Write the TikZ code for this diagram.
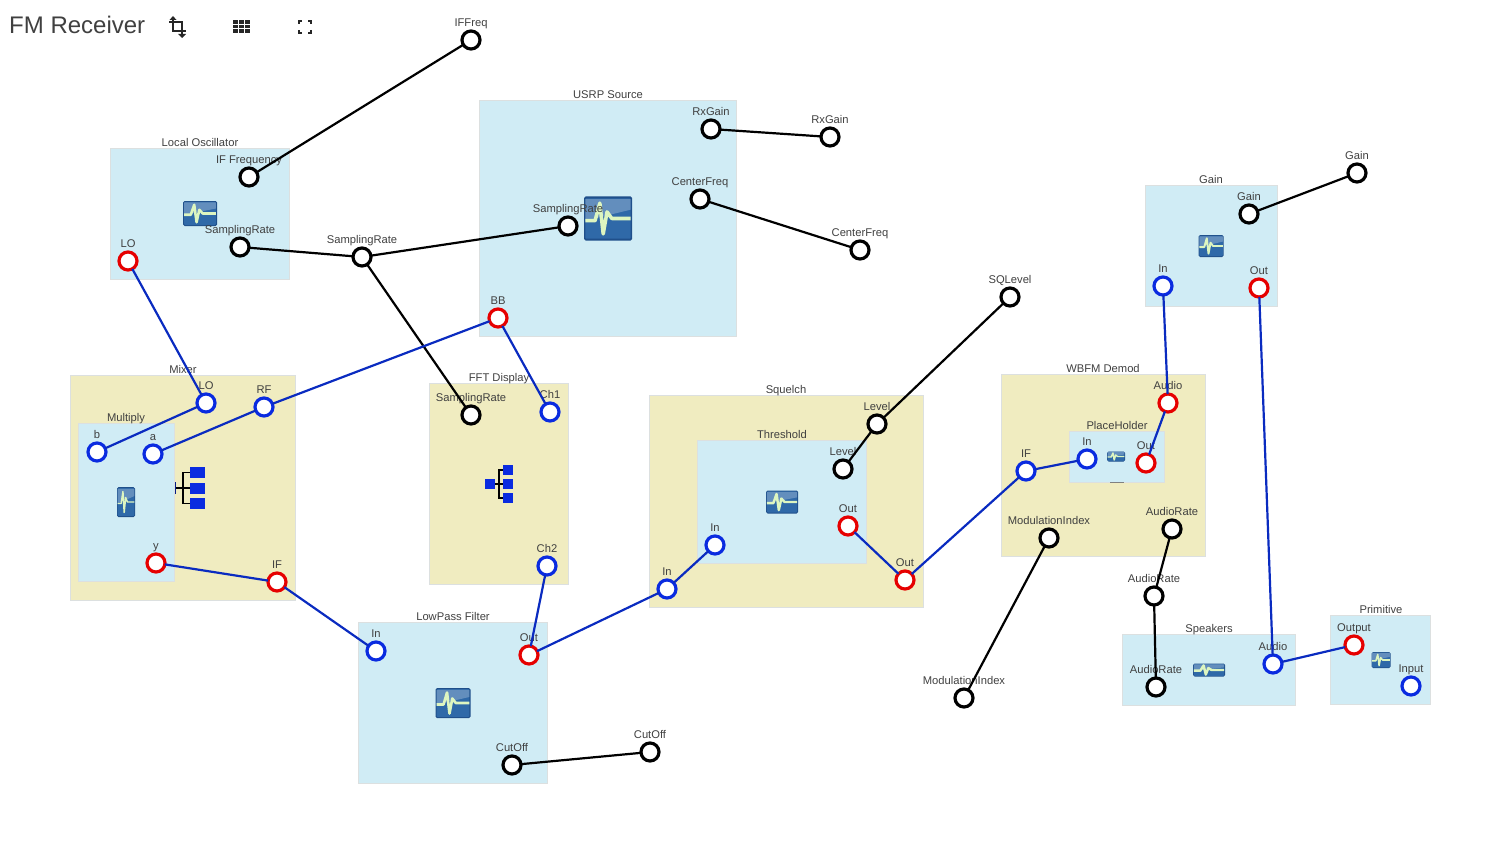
\documentclass[tikz,border=0pt]{standalone}
\usepackage{fontspec}
\setmainfont{Liberation Sans}
\usepackage{tikz}
\usetikzlibrary{arrows.meta,positioning,calc}

\definecolor{leafblue}{HTML}{D0ECF5}
\definecolor{groupkhaki}{HTML}{F0ECC0}
\definecolor{boxedge}{HTML}{DCE0E0}
\definecolor{portblue}{HTML}{0A2BE0}
\definecolor{portred}{HTML}{E60000}
\definecolor{wireblue}{HTML}{0A2BC0}
\definecolor{icondark}{HTML}{1F4F8A}
\definecolor{iconblue}{HTML}{2F69A8}
\definecolor{pulsegreen}{HTML}{DDF5C0}
\definecolor{treeblue}{HTML}{0A2BE0}

\tikzset{
  leafbox/.style={fill=leafblue, draw=boxedge, line width=1pt},
  groupbox/.style={fill=groupkhaki, draw=boxedge, line width=1pt},
  boxtitle/.style={font=\fontsize{11.2}{12}\selectfont, text=black!75, inner sep=0pt, text height=8pt, text depth=2pt, yshift=-1.5pt},
  portlabel/.style={font=\fontsize{11.2}{12}\selectfont, text=black!75, inner sep=0pt, text height=8pt, text depth=2pt, yshift=2pt},
  portbase/.style={circle, fill=white, line width=3.2pt, minimum size=18pt, inner sep=0pt, outer sep=0pt},
  paramport/.style={portbase, draw=black},
  inport/.style={portbase, draw=portblue},
  outport/.style={portbase, draw=portred},
  datawire/.style={wireblue, line width=2.2pt},
  paramwire/.style={black, line width=2.2pt},
}

% icon of a leaf block
\newcommand{\pulseicon}[4]{
  \begin{scope}[shift={(#1,#2)}, x=#3pt, y=-#4pt]
    \fill[icondark, rounded corners=1.5pt] (-0.5,-0.5) rectangle (0.5,0.5);
    \fill[iconblue, rounded corners=1pt] (-0.47,-0.46) rectangle (0.47,0.46);
    \fill[white, opacity=0.25] (-0.47,-0.44) -- (0.47,-0.44) -- (0.47,-0.2) -- (-0.47,0.05) -- cycle;
    \draw[pulsegreen, line width=0.07*#3pt+0.2pt, line join=round]
      (-0.47,0.05) -- (-0.27,0.05) -- (-0.17,-0.35) -- (-0.1,0.35) -- (-0.02,-0.15) -- (0.08,0) -- (0.47,0);
  \end{scope}
}

\begin{document}
\begin{tikzpicture}[x=1pt, y=-1pt]
  \useasboundingbox (0,0) rectangle (1492,856);

  % Page header
  \node[anchor=west, inner sep=0pt, text=black!75, font=\fontsize{24}{26}\selectfont] (pagetitle) at (9,25) {FM Receiver};
  \draw[black!85, line width=1.6pt] (173,18) -- (173,31) -- (186,31) (169,22) -- (182,22) -- (182,35);
  \fill[black!85] (178,34) -- (186,34) -- (182,38) -- cycle;
  \fill[black!85] (169.5,20) -- (176.5,20) -- (173,16) -- cycle;
  \foreach \gx in {233,239,245}
    \foreach \gy in {20,24.7,29.4}
      \fill[black!85] (\gx,\gy) rectangle ++(5,3.7);
  \draw[black!85, line width=1.7pt] (299,24) -- (299,21) -- (302,21) (308,21) -- (311,21) -- (311,24) (311,30) -- (311,33) -- (308,33) (302,33) -- (299,33) -- (299,30);

  % Blocks
  \draw[leafbox] (110.5,148.5) rectangle (289.5,279);
  \node[boxtitle] (localtitle) at (200,142) {Local Oscillator};
  \pulseicon{200}{213.5}{34}{25}

  \draw[leafbox] (479.5,100.5) rectangle (736.5,336);
  \node[boxtitle] (usrptitle) at (608,94) {USRP Source};
  \pulseicon{608}{218.5}{48}{44}

  \draw[groupbox] (70.5,375.5) rectangle (295.5,600);
  \node[boxtitle] (mixertitle) at (183,369) {Mixer};
  \draw[leafbox] (78.5,423.5) rectangle (174.5,581);
  \node[boxtitle] (multiplytitle) at (126,417) {Multiply};
  \pulseicon{126}{502}{18}{30}
  \draw[black, line width=1.6pt] (190,472.5) -- (183,472.5) -- (183,503.5) -- (190,503.5) (176,488) -- (190,488);
  \draw[wireblue!70!black, line width=1.2pt] (175.5,482) -- (175.5,494);
  \foreach \sy in {467,482.5,498}
    \fill[treeblue] (190,\sy) rectangle ++(15,11);

  \draw[groupbox] (429.5,383.5) rectangle (568.5,584);
  \node[boxtitle] (ffttitle) at (499,377) {FFT Display};
  \draw[black, line width=1.2pt] (503,470) -- (499,470) -- (499,498) -- (503,498) (495,484) -- (503,484);
  \fill[treeblue] (485,479) rectangle ++(10,10);
  \foreach \sy in {465,479,493}
    \fill[treeblue] (503,\sy) rectangle ++(10,10);

  \draw[groupbox] (649.5,395.5) rectangle (923.5,607);
  \node[boxtitle] (squelchtitle) at (786,389) {Squelch};
  \draw[leafbox] (697.5,440.5) rectangle (866.5,563);
  \node[boxtitle] (thresholdtitle) at (782,434) {Threshold};
  \pulseicon{782}{502}{32}{23}

  \draw[groupbox] (1001.5,374.5) rectangle (1205.5,556);
  \node[boxtitle] (wbfmtitle) at (1103,368) {WBFM Demod};
  \draw[leafbox] (1069.5,431.5) rectangle (1164,482);
  \node[boxtitle] (placeholdertitle) at (1117,425) {PlaceHolder};
  \pulseicon{1116}{456.5}{18}{10}
  \draw[black!50, line width=1pt] (1110,482.5) -- (1124,482.5);

  \draw[leafbox] (1145.5,185.5) rectangle (1277.5,306);
  \node[boxtitle] (gaintitle) at (1211,179) {Gain};
  \pulseicon{1211}{246}{25}{22}

  \draw[leafbox] (358.5,622.5) rectangle (547.5,783);
  \node[boxtitle] (lowpasstitle) at (453,616) {LowPass Filter};
  \pulseicon{453}{703}{35}{30}

  \draw[leafbox] (1122.5,634.5) rectangle (1295.5,705.5);
  \node[boxtitle] (speakerstitle) at (1209,628) {Speakers};
  \pulseicon{1209}{670}{32}{13}

  \draw[leafbox] (1330.5,615.5) rectangle (1430.5,704);
  \node[boxtitle] (primitivetitle) at (1381,609) {Primitive};
  \pulseicon{1381}{660}{19}{16}

  % Ports on the top level
  \node[paramport, label={[portlabel]above:IFFreq}] (iffreq) at (471,40) {};
  \node[paramport, label={[portlabel]above:RxGain}] (rxgain) at (830,137) {};
  \node[paramport, label={[portlabel]above:CenterFreq}] (centerfreq) at (860,250) {};
  \node[paramport, label={[portlabel]above:SamplingRate}] (samplingrate) at (362,257) {};
  \node[paramport, label={[portlabel]above:SQLevel}] (sqlevel) at (1010,297) {};
  \node[paramport, label={[portlabel]above:Gain}] (gain) at (1357,173) {};
  \node[paramport, label={[portlabel]above:AudioRate}] (audiorate) at (1154,596) {};
  \node[paramport, label={[portlabel]above:ModulationIndex}] (modindex) at (964,698) {};
  \node[paramport, label={[portlabel]above:CutOff}] (cutoff) at (650,752) {};

  % Local Oscillator
  \node[paramport, label={[portlabel]above:IF Frequency}] (localif) at (249,177) {};
  \node[paramport, label={[portlabel]above:SamplingRate}] (localrate) at (240,247) {};
  \node[outport, label={[portlabel]above:LO}] (locallo) at (128,261) {};

  % USRP Source
  \node[paramport, label={[portlabel]above:RxGain}] (usrpgain) at (711,129) {};
  \node[paramport, label={[portlabel]above:CenterFreq}] (usrpfreq) at (700,199) {};
  \node[paramport, label={[portlabel]above:SamplingRate}] (usrprate) at (568,226) {};
  \node[outport, label={[portlabel]above:BB}] (usrpbb) at (498,318) {};

  % Mixer
  \node[inport, label={[portlabel]above:LO}] (mixerlo) at (206,403) {};
  \node[inport, label={[portlabel]above:RF}] (mixerrf) at (264,407) {};
  \node[outport, label={[portlabel]above:IF}] (mixerif) at (277,582) {};
  \node[inport, label={[portlabel]above:b}] (multb) at (97,452) {};
  \node[inport, label={[portlabel]above:a}] (multa) at (153,454) {};
  \node[outport, label={[portlabel]above:y}] (multy) at (156,563) {};

  % FFT Display
  \node[paramport, label={[portlabel]above:SamplingRate}] (fftrate) at (471,415) {};
  \node[inport, label={[portlabel]above:Ch1}] (fftchone) at (550,412) {};
  \node[inport, label={[portlabel]above:Ch2}] (fftchtwo) at (547,566) {};

  % Squelch
  \node[paramport, label={[portlabel]above:Level}] (squelchlevel) at (877,424) {};
  \node[inport, label={[portlabel]above:In}] (squelchin) at (667,589) {};
  \node[outport, label={[portlabel]above:Out}] (squelchout) at (905,580) {};
  \node[paramport, label={[portlabel]above:Level}] (threshlevel) at (843,469) {};
  \node[outport, label={[portlabel]above:Out}] (threshout) at (848,526) {};
  \node[inport, label={[portlabel]above:In}] (threshin) at (715,545) {};

  % WBFM Demod
  \node[outport, label={[portlabel]above:Audio}] (wbfmaudio) at (1168,403) {};
  \node[inport, label={[portlabel]above:IF}] (wbfmif) at (1026,471) {};
  \node[paramport, label={[portlabel]above:ModulationIndex}] (wbfmindex) at (1049,538) {};
  \node[paramport, label={[portlabel]above:AudioRate}] (wbfmrate) at (1172,529) {};
  \node[inport, label={[portlabel]above:In}] (holderin) at (1087,459) {};
  \node[outport, label={[portlabel]above:Out}] (holderout) at (1146,463) {};

  % Gain
  \node[paramport, label={[portlabel]above:Gain}] (gainparam) at (1249,214) {};
  \node[inport, label={[portlabel]above:In}] (gainin) at (1163,286) {};
  \node[outport, label={[portlabel]above:Out}] (gainout) at (1259,288) {};

  % LowPass Filter
  \node[inport, label={[portlabel]above:In}] (lowin) at (376,651) {};
  \node[outport, label={[portlabel]above:Out}] (lowout) at (529,655) {};
  \node[paramport, label={[portlabel]above:CutOff}] (lowcut) at (512,765) {};

  % Speakers and Primitive
  \node[paramport, label={[portlabel]above:AudioRate}] (speakrate) at (1156,687) {};
  \node[inport, label={[portlabel]above:Audio}] (speakaudio) at (1273,664) {};
  \node[outport, label={[portlabel]above:Output}] (primout) at (1354,645) {};
  \node[inport, label={[portlabel]above:Input}] (primin) at (1411,686) {};

  % Parameter wires
  \draw[paramwire] (iffreq) -- (localif);
  \draw[paramwire] (localrate) -- (samplingrate);
  \draw[paramwire] (samplingrate) -- (usrprate);
  \draw[paramwire] (samplingrate) -- (fftrate);
  \draw[paramwire] (usrpgain) -- (rxgain);
  \draw[paramwire] (usrpfreq) -- (centerfreq);
  \draw[paramwire] (sqlevel) -- (squelchlevel);
  \draw[paramwire] (squelchlevel) -- (threshlevel);
  \draw[paramwire] (gain) -- (gainparam);
  \draw[paramwire] (modindex) -- (wbfmindex);
  \draw[paramwire] (wbfmrate) -- (audiorate);
  \draw[paramwire] (audiorate) -- (speakrate);
  \draw[paramwire] (lowcut) -- (cutoff);

  % Signal wires
  \draw[datawire] (locallo) -- (mixerlo);
  \draw[datawire] (mixerlo) -- (multb);
  \draw[datawire] (mixerrf) -- (multa);
  \draw[datawire] (usrpbb) -- (mixerrf);
  \draw[datawire] (multy) -- (mixerif);
  \draw[datawire] (mixerif) -- (lowin);
  \draw[datawire] (usrpbb) -- (fftchone);
  \draw[datawire] (lowout) -- (fftchtwo);
  \draw[datawire] (lowout) -- (squelchin);
  \draw[datawire] (squelchin) -- (threshin);
  \draw[datawire] (threshout) -- (squelchout);
  \draw[datawire] (squelchout) -- (wbfmif);
  \draw[datawire] (wbfmif) -- (holderin);
  \draw[datawire] (holderout) -- (wbfmaudio);
  \draw[datawire] (wbfmaudio) -- (gainin);
  \draw[datawire] (gainout) -- (speakaudio);
  \draw[datawire] (speakaudio) -- (primout);
\end{tikzpicture}
\end{document}
